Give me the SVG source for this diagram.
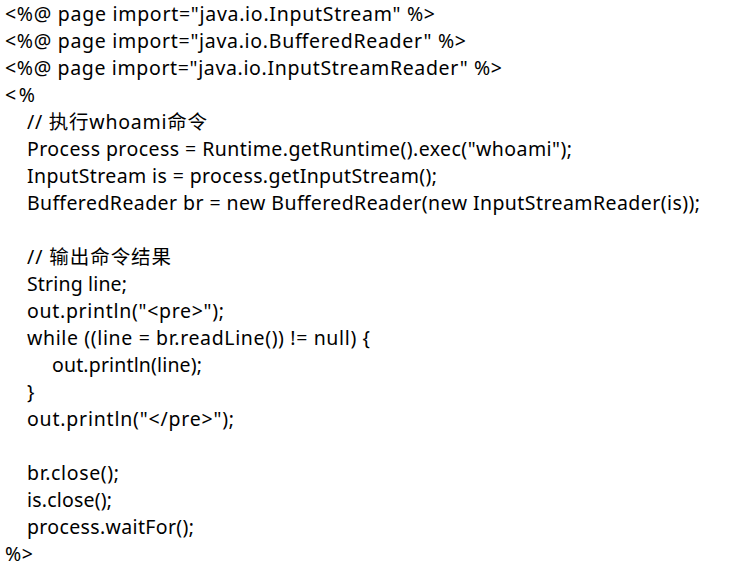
<svg xmlns="http://www.w3.org/2000/svg" width="731" height="586" viewBox="0 0 731 586">
<style>
text{font-family:"Noto Sans","Noto Sans CJK SC",sans-serif;font-size:19.5px;fill:#000;white-space:pre}
</style>
<rect width="731" height="586" fill="#fff"/>
<g id="code">
<text x="5" y="21" textLength="430" lengthAdjust="spacing">&lt;%@ page import="java.io.InputStream" %&gt;</text>
<text x="5" y="48" textLength="461" lengthAdjust="spacing">&lt;%@ page import="java.io.BufferedReader" %&gt;</text>
<text x="5" y="75" textLength="497" lengthAdjust="spacing">&lt;%@ page import="java.io.InputStreamReader" %&gt;</text>
<text x="5" y="102" textLength="30" lengthAdjust="spacing">&lt;%</text>
<text x="27" y="129" textLength="180" lengthAdjust="spacing">// 执行whoami命令</text>
<text x="27" y="156" textLength="545" lengthAdjust="spacing">Process process = Runtime.getRuntime().exec("whoami");</text>
<text x="27" y="183" textLength="410" lengthAdjust="spacing">InputStream is = process.getInputStream();</text>
<text x="27" y="210" textLength="673" lengthAdjust="spacing">BufferedReader br = new BufferedReader(new InputStreamReader(is));</text>
<text x="27" y="264" textLength="144" lengthAdjust="spacing">// 输出命令结果</text>
<text x="27" y="291" textLength="100" lengthAdjust="spacing">String line;</text>
<text x="27" y="318" textLength="197" lengthAdjust="spacing">out.println("&lt;pre&gt;");</text>
<text x="27" y="345" textLength="343" lengthAdjust="spacing">while ((line = br.readLine()) != null) {</text>
<text x="52" y="372" textLength="150" lengthAdjust="spacing">out.println(line);</text>
<text x="27" y="399">}</text>
<text x="27" y="426" textLength="207" lengthAdjust="spacing">out.println("&lt;/pre&gt;");</text>
<text x="27" y="480" textLength="92" lengthAdjust="spacing">br.close();</text>
<text x="27" y="507" textLength="85" lengthAdjust="spacing">is.close();</text>
<text x="27" y="534" textLength="167" lengthAdjust="spacing">process.waitFor();</text>
<text x="5" y="561" textLength="28" lengthAdjust="spacing">%&gt;</text>
</g>
</svg>
